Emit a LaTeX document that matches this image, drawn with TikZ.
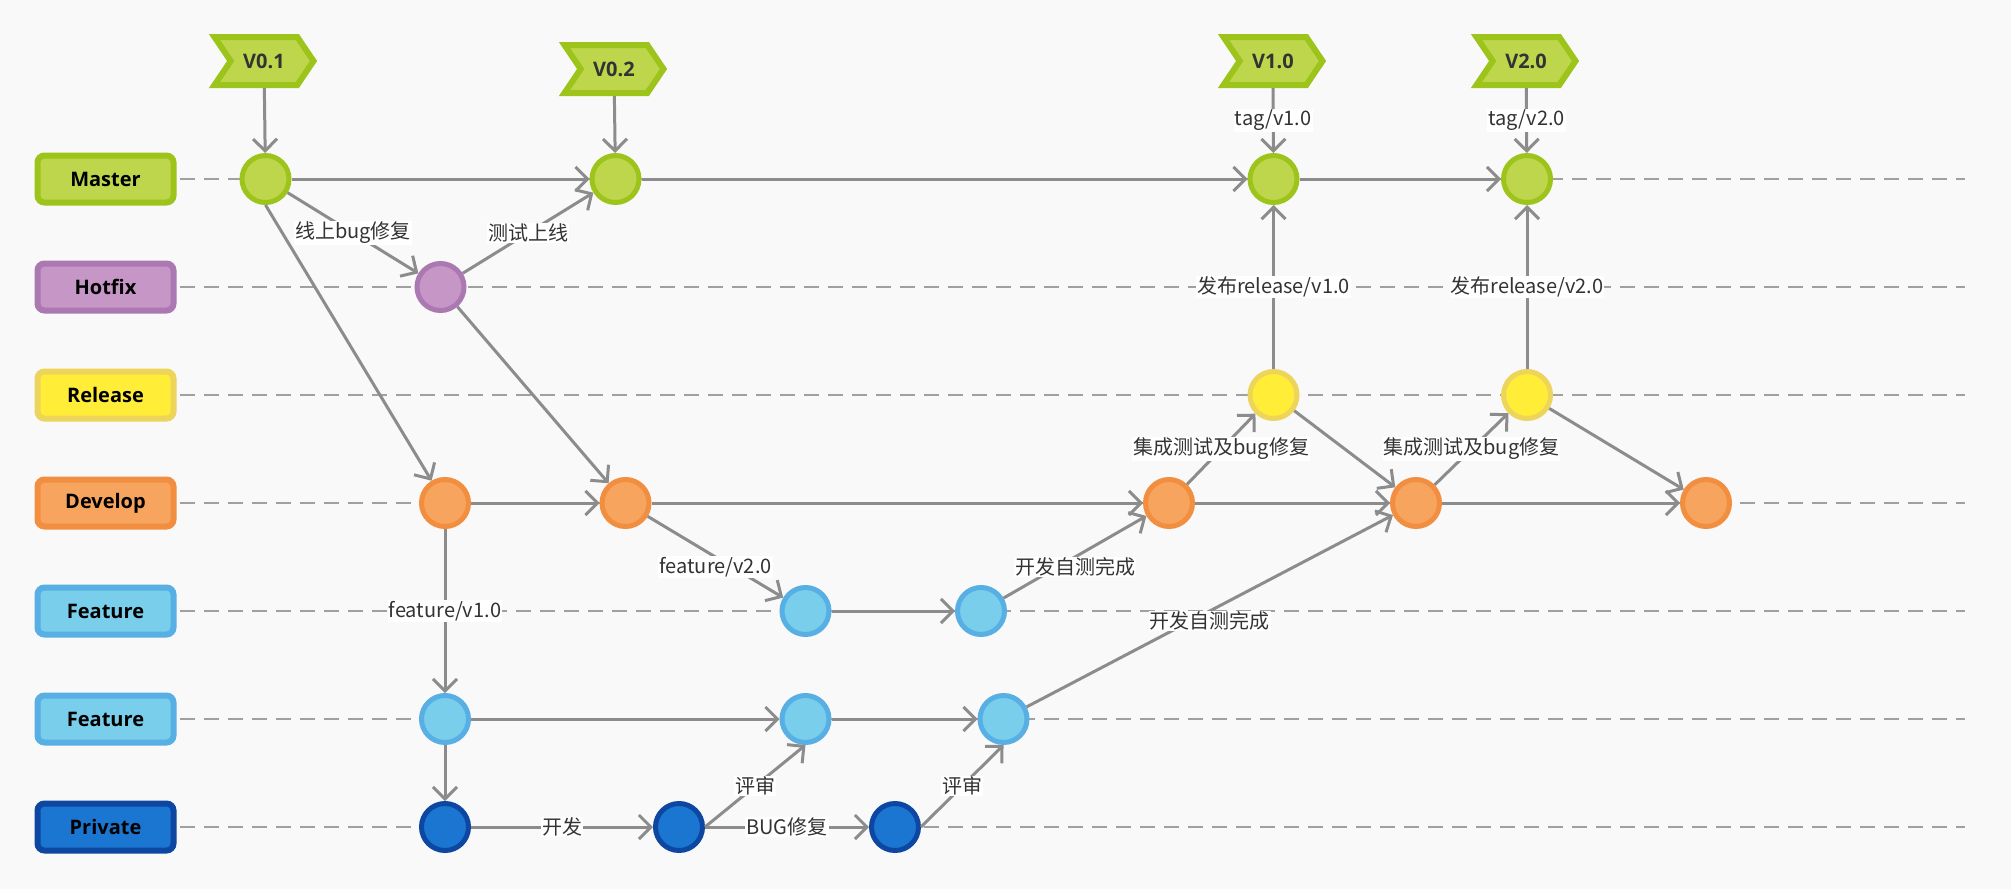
\documentclass[tikz,border=0pt]{standalone}
\usepackage{fontspec}
\setmainfont{Noto Sans CJK SC}
\newfontfamily\labfont{Open Sans}
\usetikzlibrary{arrows.meta,shapes.symbols}
\pgfdeclarelayer{background}
\pgfsetlayers{background,main}
\definecolor{mfill}{HTML}{BED64C}\definecolor{mline}{HTML}{9DC41A}
\definecolor{hfill}{HTML}{C696C6}\definecolor{hline}{HTML}{AB78B2}
\definecolor{rfill}{HTML}{FFED38}\definecolor{rline}{HTML}{EDD45B}
\definecolor{dfill}{HTML}{F7A45F}\definecolor{dline}{HTML}{F28E3F}
\definecolor{ffill}{HTML}{78CEEB}\definecolor{fline}{HTML}{58AFE4}
\definecolor{pfill}{HTML}{1B76D2}\definecolor{pline}{HTML}{0D47A1}
\definecolor{edgec}{HTML}{8C8C8C}
\definecolor{dashc}{HTML}{A0A0A0}
\definecolor{bgc}{HTML}{F9F9F9}
\definecolor{txt}{HTML}{333333}
\tikzset{
  lane/.style={rectangle, rounded corners=7pt, minimum width=136pt, minimum height=47pt,
    line width=6pt, inner sep=0pt, text=black,
    font=\labfont\bfseries\fontsize{20}{24}\selectfont},
  commit/.style={circle, minimum size=47pt, inner sep=0pt, line width=5pt},
  tagbox/.style={signal, signal to=east, signal from=west, signal pointer angle=112,
    minimum width=99pt, minimum height=48pt, inner sep=0pt, line width=6pt,
    fill=mfill, draw=mline, text=txt,
    font=\labfont\bfseries\fontsize{20}{24}\selectfont},
  conn/.style={draw=edgec, line width=3pt, -{Straight Barb[length=12pt,width=24pt]}},
  lanedash/.style={draw=dashc, line width=2.5pt, dash pattern=on 15pt off 9pt},
  elabel/.style={fill=white, inner sep=1pt, text=txt, font=\fontsize{20}{24}\selectfont},
  elow/.style={elabel, yshift=-10pt}
}
\begin{document}
\begin{tikzpicture}[x=1pt,y=-1pt]
\useasboundingbox (0,0) rectangle (2011,889);
% lanes
\node[lane, fill=mfill, draw=mline] (LM) at (105.5,179) {Master};
\node[lane, fill=hfill, draw=hline] (LH) at (105.5,287) {Hotfix};
\node[lane, fill=rfill, draw=rline] (LR) at (105.5,395) {Release};
\node[lane, fill=dfill, draw=dline] (LD) at (105.5,503) {Develop};
\node[lane, fill=ffill, draw=fline] (LF) at (105.5,611) {Feature};
\node[lane, fill=ffill, draw=fline] (LG) at (105.5,719) {Feature};
\node[lane, fill=pfill, draw=pline] (LP) at (105.5,827) {Private};
\coordinate (EM) at (1965,179);
\coordinate (EH) at (1965,287);
\coordinate (ER) at (1965,395);
\coordinate (ED) at (1965,503);
\coordinate (EF) at (1965,611);
\coordinate (EG) at (1965,719);
\coordinate (EP) at (1965,827);
% tags
\node[tagbox] (T1) at (264,61) {V0.1};
\node[tagbox] (T2) at (614,69) {V0.2};
\node[tagbox] (T3) at (1273,61) {V1.0};
\node[tagbox] (T4) at (1526,61) {V2.0};
% commits
\node[commit, fill=mfill, draw=mline] (M1) at (265.5,179) {};
\node[commit, fill=mfill, draw=mline] (M2) at (615.5,179) {};
\node[commit, fill=mfill, draw=mline] (M3) at (1273.5,179) {};
\node[commit, fill=mfill, draw=mline] (M4) at (1527,179) {};
\node[commit, fill=hfill, draw=hline] (H1) at (440.5,287) {};
\node[commit, fill=rfill, draw=rline] (R1) at (1273.5,395) {};
\node[commit, fill=rfill, draw=rline] (R2) at (1527,395) {};
\node[commit, fill=dfill, draw=dline] (D1) at (445,503) {};
\node[commit, fill=dfill, draw=dline] (D2) at (625.5,503) {};
\node[commit, fill=dfill, draw=dline] (D3) at (1169,503) {};
\node[commit, fill=dfill, draw=dline] (D4) at (1416,503) {};
\node[commit, fill=dfill, draw=dline] (D5) at (1706,503) {};
\node[commit, fill=ffill, draw=fline] (F1) at (805.5,611) {};
\node[commit, fill=ffill, draw=fline] (F2) at (981,611) {};
\node[commit, fill=ffill, draw=fline] (G1) at (445,719) {};
\node[commit, fill=ffill, draw=fline] (G2) at (805.5,719) {};
\node[commit, fill=ffill, draw=fline] (G3) at (1003.5,719) {};
\node[commit, fill=pfill, draw=pline] (P1) at (445,827) {};
\node[commit, fill=pfill, draw=pline] (P2) at (679,827) {};
\node[commit, fill=pfill, draw=pline] (P3) at (895,827) {};
% background
\begin{pgfonlayer}{background}
\fill[bgc] (0,0) rectangle (2011,889);
\draw[lanedash] ([xshift=3pt]LM.east) -- (EM);
\draw[lanedash] ([xshift=3pt]LH.east) -- (EH);
\draw[lanedash] ([xshift=3pt]LR.east) -- (ER);
\draw[lanedash] ([xshift=3pt]LD.east) -- (ED);
\draw[lanedash] ([xshift=3pt]LF.east) -- (EF);
\draw[lanedash] ([xshift=3pt]LG.east) -- (EG);
\draw[lanedash] ([xshift=3pt]LP.east) -- (EP);
\end{pgfonlayer}
% connectors
\draw[conn] (T1) -- (M1);
\draw[conn] (T2) -- (M2);
\draw[conn] (T3) -- node[elabel]{tag/v1.0} (M3);
\draw[conn] (T4) -- node[elabel]{tag/v2.0} (M4);
\draw[conn] (M1) -- (M2);
\draw[conn] (M2) -- (M3);
\draw[conn] (M3) -- (M4);
\draw[conn] (M1) -- node[elabel]{线上bug修复} (H1);
\draw[conn] (H1) -- node[elabel]{测试上线} (M2);
\draw[conn] (M1.south) -- (D1);
\draw[conn] (H1) -- (D2);
\draw[conn] (D1) -- (D2);
\draw[conn] (D2) -- (D3);
\draw[conn] (D3) -- (D4);
\draw[conn] (D4) -- (D5);
\draw[conn] (D2) -- node[elow]{feature/v2.0} (F1);
\draw[conn] (F1) -- (F2);
\draw[conn] (F2) -- node[elow]{开发自测完成} (D3);
\draw[conn] (D1) -- node[elabel]{feature/v1.0} (G1);
\draw[conn] (G1) -- (G2);
\draw[conn] (G2) -- (G3);
\draw[conn] (G3) -- node[elow]{开发自测完成} (D4);
\draw[conn] (G1) -- (P1);
\draw[conn] (P1) -- node[elabel]{开发} (P2);
\draw[conn] (P2.east) -- node[elabel]{评审} (G2.south);
\draw[conn] (P2) -- node[elabel]{BUG修复} (P3);
\draw[conn] (P3.east) -- node[elabel]{评审} (G3.south);
\draw[conn] (D3) -- node[elabel]{集成测试及bug修复} (R1);
\draw[conn] (R1) -- node[elabel]{发布release/v1.0} (M3);
\draw[conn] (R1) -- (D4);
\draw[conn] (D4) -- node[elabel]{集成测试及bug修复} (R2);
\draw[conn] (R2) -- node[elabel]{发布release/v2.0} (M4);
\draw[conn] (R2) -- (D5);
\end{tikzpicture}
\end{document}
